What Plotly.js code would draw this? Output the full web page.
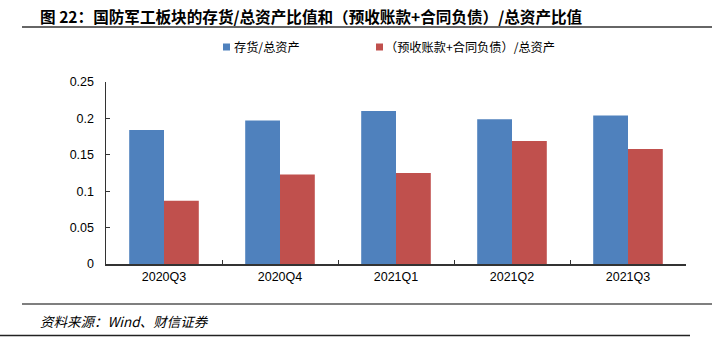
<!DOCTYPE html>
<html><head><meta charset="utf-8">
<script src="https://cdn.plot.ly/plotly-3.0.1.min.js"></script>
<style>html,body{margin:0;padding:0;background:#fff;}#chart{width:720px;height:338px;}</style>
</head><body><div id="chart"></div>
<script>
const categories = ['2020Q3','2020Q4','2021Q1','2021Q2','2021Q3'];
const inventoryRatio = [0.184, 0.197, 0.210, 0.199, 0.204];
const advanceRatio = [0.087, 0.123, 0.125, 0.169, 0.158];
const seriesNames = ['存货/总资产', '（预收账款+合同负债）/总资产'];
const seriesColors = ['#4F81BD', '#C0504D'];
const yTicks = [0, 0.05, 0.1, 0.15, 0.2, 0.25];
const yTickLabels = ['0', '0.05', '0.1', '0.15', '0.2', '0.25'];

// plot area geometry in pixels (for paper-coordinate conversion of decorations)
const L = 106, R = 686, T = 82, B = 264;
const W = R - L, H = B - T;
const px = x => (x - L) / W;
const py = y => (B - y) / H;

const tickFont = {family: 'Liberation Sans, Arial, sans-serif', size: 12.5, color: '#000'};
const traces = [
  {type: 'bar', x: categories, y: inventoryRatio, name: seriesNames[0], marker: {color: seriesColors[0]}},
  {type: 'bar', x: categories, y: advanceRatio, name: seriesNames[1], marker: {color: seriesColors[1]}}
];
const legendFont = {family: 'Noto Sans CJK SC, sans-serif', size: 12.2, color: '#000'};
const layout = {
  width: 720, height: 338,
  margin: {l: L, r: 720 - R, t: T, b: 338 - B},
  paper_bgcolor: '#fff', plot_bgcolor: '#fff',
  barmode: 'group', bargap: 0.4, bargroupgap: 0,
  showlegend: false,
  xaxis: {type: 'category', showline: true, linecolor: '#333', linewidth: 1.5,
    ticks: 'inside', tickson: 'boundaries', ticklen: 4, tickcolor: '#333',
    tickfont: tickFont, showgrid: false, zeroline: false},
  yaxis: {range: [0, 0.25], tickvals: yTicks, ticktext: yTickLabels, showline: true,
    linecolor: '#333', linewidth: 1.5, ticks: 'inside', ticklen: 4, tickcolor: '#333',
    tickfont: tickFont, showgrid: false, zeroline: false, ticklabelstandoff: 8},
  shapes: [
    {type: 'line', xref: 'paper', yref: 'paper', x0: px(22), x1: px(712), y0: py(27), y1: py(27), line: {color: '#333', width: 1.5}},
    {type: 'line', xref: 'paper', yref: 'paper', x0: px(22), x1: px(712), y0: py(304), y1: py(304), line: {color: '#555', width: 1.5}},
    {type: 'line', xref: 'paper', yref: 'paper', x0: px(0), x1: px(690), y0: py(335.5), y1: py(335.5), line: {color: '#222', width: 1.5}},
    {type: 'rect', xref: 'paper', yref: 'paper', x0: px(223), x1: px(230), y0: py(43.5), y1: py(50.5), line: {width: 0}, fillcolor: seriesColors[0]},
    {type: 'rect', xref: 'paper', yref: 'paper', x0: px(376), x1: px(383), y0: py(43.5), y1: py(50.5), line: {width: 0}, fillcolor: seriesColors[1]}
  ],
  annotations: [
    {xref: 'paper', yref: 'paper', x: px(38), y: py(16), xanchor: 'left', yanchor: 'middle', showarrow: false,
     text: '<b>图 22：国防军工板块的存货/总资产比值和（预收账款+合同负债）/总资产比值</b>',
     font: {family: 'Noto Sans CJK SC, sans-serif', size: 15.6, color: '#000'}},
    {xref: 'paper', yref: 'paper', x: px(232), y: py(47), xanchor: 'left', yanchor: 'middle', showarrow: false,
     text: seriesNames[0], font: legendFont},
    {xref: 'paper', yref: 'paper', x: px(383), y: py(47), xanchor: 'left', yanchor: 'middle', showarrow: false,
     text: seriesNames[1], font: legendFont},
    {xref: 'paper', yref: 'paper', x: px(38), y: py(321), xanchor: 'left', yanchor: 'middle', showarrow: false,
     text: '<i>资料来源：Wind、财信证券</i>',
     font: {family: 'Noto Sans CJK SC, sans-serif', size: 13.5, color: '#000'}}
  ]
};
Plotly.newPlot('chart', traces, layout, {displayModeBar: false, staticPlot: true});
</script></body></html>
